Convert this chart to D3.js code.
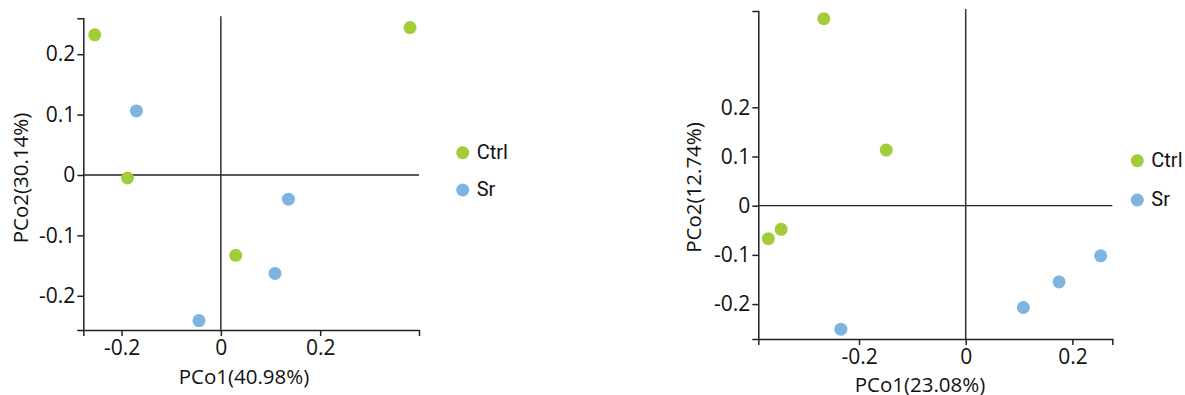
<!DOCTYPE html>
<html lang="en">
<head>
  <meta charset="UTF-8" />
  <title>PCoA</title>
  <script src="https://d3js.org/d3.v7.min.js"></script>
  <style>
    body { margin: 0; background: #fff; }
  </style>
</head>
<body>
  <svg id="chart" width="1185" height="395"></svg>

  <script>
    const groups = ["Ctrl", "Sr"];
    const colors = ["#a2cc38", "#7db4e2"];
    const tickVals = [-0.2, 0, 0.2];
    const yTickValsLeft = [-0.2, -0.1, 0, 0.1, 0.2];
    const yTickValsRight = [-0.2, -0.1, 0, 0.1, 0.2];

    // left panel
    const leftCtrlX = [-0.254, 0.381, -0.188, 0.030];
    const leftCtrlY = [0.232, 0.244, -0.005, -0.133];
    const leftSrX = [-0.170, 0.136, 0.109, -0.044];
    const leftSrY = [0.106, -0.040, -0.163, -0.241];

    // right panel
    const rightCtrlX = [-0.266, -0.149, -0.346, -0.370];
    const rightCtrlY = [0.380, 0.113, -0.048, -0.067];
    const rightSrX = [-0.234, 0.108, 0.175, 0.253];
    const rightSrY = [-0.251, -0.207, -0.155, -0.102];

    const svg = d3.select("#chart");
    const fmt = d => String(d);

    function drawPanel(p) {
      const x = d3.scaleLinear().domain(p.xDomain).range(p.xRange);
      const y = d3.scaleLinear().domain(p.yDomain).range(p.yRange);
      const g = svg.append("g");

      // zero lines
      g.append("line")
        .attr("x1", x(0)).attr("x2", x(0))
        .attr("y1", p.yRange[1] - 2).attr("y2", p.yRange[0])
        .attr("stroke", "#333").attr("stroke-width", 1.5);
      g.append("line")
        .attr("x1", p.xRange[0]).attr("x2", p.xRange[1])
        .attr("y1", y(0)).attr("y2", y(0))
        .attr("stroke", "#222").attr("stroke-width", 1.3);

      const xAxis = g.append("g")
        .attr("transform", `translate(0,${p.yRange[0]})`)
        .call(d3.axisBottom(x).tickValues(tickVals).tickFormat(fmt).tickSize(6).tickSizeOuter(6).tickPadding(4));
      const yAxis = g.append("g")
        .attr("transform", `translate(${p.xRange[0]},0)`)
        .call(d3.axisLeft(y).tickValues(p.yTicks).tickFormat(fmt).tickSize(6).tickSizeOuter(6).tickPadding(2));

      [xAxis, yAxis].forEach(a => {
        a.selectAll("path, line").attr("stroke", "#222").attr("stroke-width", 1.5);
        a.selectAll("text")
          .attr("fill", "#111")
          .style("font-family", "'Open Sans', sans-serif")
          .style("font-size", "21px");
      });

      g.append("text")
        .attr("x", p.xTitlePos[0]).attr("y", p.xTitlePos[1])
        .attr("text-anchor", "middle")
        .style("font-family", "'Open Sans', sans-serif")
        .style("font-size", "20.5px")
        .attr("fill", "#111")
        .text(p.xTitle);
      g.append("text")
        .attr("transform", `translate(${p.yTitlePos[0]},${p.yTitlePos[1]}) rotate(-90)`)
        .attr("text-anchor", "middle")
        .style("font-family", "'Open Sans', sans-serif")
        .style("font-size", "20.5px")
        .attr("fill", "#111")
        .text(p.yTitle);

      p.series.forEach((s, i) => {
        g.selectAll(null)
          .data(d3.zip(s.xs, s.ys))
          .join("circle")
          .attr("cx", d => x(d[0]))
          .attr("cy", d => y(d[1]))
          .attr("r", 6.5)
          .attr("fill", colors[i]);
      });

      const leg = g.append("g").attr("transform", `translate(${p.legendPos[0]},${p.legendPos[1]})`);
      groups.forEach((name, i) => {
        leg.append("circle")
          .attr("cx", 0).attr("cy", i * p.legendStep)
          .attr("r", 6.5).attr("fill", colors[i]);
        leg.append("text")
          .attr("x", 14).attr("y", i * p.legendStep + 6.5)
          .style("font-family", "Roboto, sans-serif")
          .style("font-size", "20px")
          .attr("fill", "#111")
          .text(name);
      });
    }

    drawPanel({
      xDomain: [-0.277, 0.399], yDomain: [-0.2566, 0.2594],
      xRange: [83.3, 419], yRange: [330, 18.3],
      yTicks: yTickValsLeft,
      xTitle: "PCo1(40.98%)", xTitlePos: [244, 384],
      yTitle: "PCo2(30.14%)", yTitlePos: [27.5, 178],
      legendPos: [462.7, 152.7], legendStep: 37.3,
      series: [{ xs: leftCtrlX, ys: leftCtrlY }, { xs: leftSrX, ys: leftSrY }]
    });

    drawPanel({
      xDomain: [-0.3888, 0.2748], yDomain: [-0.271, 0.3957],
      xRange: [758.3, 1112.3], yRange: [339, 11],
      yTicks: yTickValsRight,
      xTitle: "PCo1(23.08%)", xTitlePos: [920, 392],
      yTitle: "PCo2(12.74%)", yTitlePos: [700.5, 187.5],
      legendPos: [1137.3, 160.7], legendStep: 39.3,
      series: [{ xs: rightCtrlX, ys: rightCtrlY }, { xs: rightSrX, ys: rightSrY }]
    });
  </script>
</body>
</html>
